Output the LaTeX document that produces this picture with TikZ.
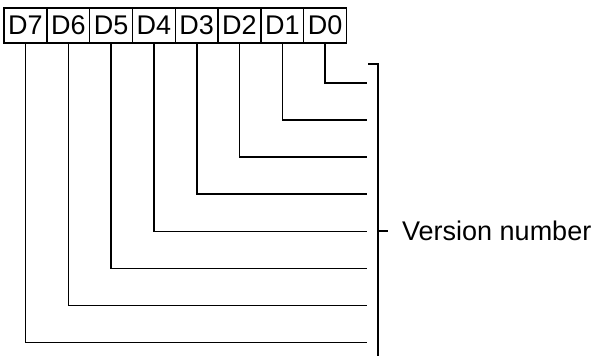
\documentclass[tikz,border=0pt]{standalone}
\usepackage{fontspec}
\setmainfont{Liberation Sans}
\usetikzlibrary{positioning}

\begin{document}
\begin{tikzpicture}[x=1pt,y=-1pt,
  bit/.style={draw,line width=1.5pt,outer sep=0pt,inner sep=0pt,minimum width=42.8pt,minimum height=35pt,font=\fontsize{27}{30}\selectfont},
  ln/.style={line width=1.6pt}]
\useasboundingbox (0,0) rectangle (595,358);
% register bits
\node[bit] (b7) at (25.5,25.5) {D7};
\foreach \i [evaluate=\i as \j using int(\i+1)] in {6,...,0}
  \node[bit,right=0pt of b\j] (b\i) {D\i};
% lines to the bracket
\foreach \i in {0,...,7} {
  \coordinate (e\i) at (367,{83+37.1*\i});
  \draw[ln] (b\i.south) |- (e\i);
}
% bracket and label
\coordinate (btop) at (368,64);
\coordinate (bbot) at (378,356);
\draw[ln] (btop) -| (bbot);
\node[anchor=west,inner sep=0pt,font=\fontsize{27}{30}\selectfont] (ver) at (402,231) {Version number};
\draw[ln] (bbot |- ver.west) -- ++(10,0);
\end{tikzpicture}
\end{document}
